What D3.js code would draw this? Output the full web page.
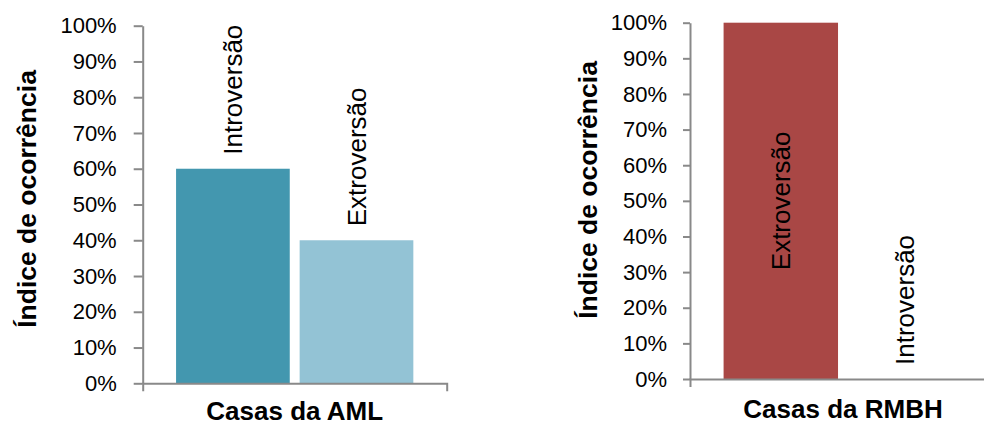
<!DOCTYPE html>
<html>
<head>
<meta charset="utf-8">
<script src="https://cdn.jsdelivr.net/npm/d3@7"></script>
<style>
  html, body { margin: 0; padding: 0; background: #ffffff; }
  svg { display: block; }
  text { font-family: "Liberation Sans", Arial, sans-serif; fill: #000; }
</style>
</head>
<body>
<svg id="chart" width="984" height="425"></svg>
<script>
// ---- Data ----
const categories = ["Casas da AML", "Casas da RMBH"];
const amlSeries = ["Introversão", "Extroversão"];
const amlValues = [0.60, 0.40];
const amlColors = ["#4397AF", "#93C3D5"];
const amlLabelPos = ["out", "out"];
const rmbhSeries = ["Extroversão", "Introversão"];
const rmbhValues = [1.00, 0.00];
const rmbhColors = ["#A94745", "#A94745"];
const rmbhLabelPos = ["center", "out"];
const yTicks = [0, 0.1, 0.2, 0.3, 0.4, 0.5, 0.6, 0.7, 0.8, 0.9, 1.0];
const yTitle = "Índice de ocorrência";

// ---- Layout (positions only) ----
const panels = [
  { cat: categories[0], series: amlSeries, values: amlValues, colors: amlColors, labelPos: amlLabelPos,
    x0: 142.7, x1: 446.7, yBottom: 383.3, yTop: 25.7, tickSize: 9, tickPad: 17,
    titleX: 36, titleY: 199, catY: 420 },
  { cat: categories[1], series: rmbhSeries, values: rmbhValues, colors: rmbhColors, labelPos: rmbhLabelPos,
    x0: 690, x1: 996, yBottom: 379, yTop: 22.7, tickSize: 7, tickPad: 16,
    titleX: 597, titleY: 190, catY: 418 }
];

const svg = d3.select("#chart");
const axisColor = "#898989";

panels.forEach(p => {
  const g = svg.append("g");
  const y = d3.scaleLinear().domain([0, 1]).range([p.yBottom, p.yTop]);
  const xCat = d3.scaleBand().domain([p.cat]).range([p.x0, p.x1]);
  const x = d3.scaleBand().domain(p.series).range([p.x0, p.x1])
    .paddingInner(0.08).paddingOuter(0.27);

  // bars
  g.selectAll("rect.bar").data(p.series).enter().append("rect")
    .attr("class", "bar")
    .attr("x", d => x(d))
    .attr("width", x.bandwidth())
    .attr("y", (d, i) => y(p.values[i]))
    .attr("height", (d, i) => y(0) - y(p.values[i]))
    .attr("fill", (d, i) => p.colors[i]);

  // y axis
  const yAxis = d3.axisLeft(y).tickValues(yTicks).tickFormat(d3.format(".0%"))
    .tickSize(p.tickSize).tickSizeOuter(0).tickPadding(p.tickPad);
  const ya = g.append("g").attr("transform", `translate(${p.x0},0)`).call(yAxis);
  ya.select(".domain").attr("stroke", axisColor).attr("stroke-width", 2);
  ya.selectAll(".tick line").attr("stroke", axisColor).attr("stroke-width", 2);
  ya.selectAll(".tick text").attr("font-size", 22).attr("font-family", "'Liberation Sans', Arial, sans-serif").attr("fill", "#000");

  // x axis
  const xAxis = d3.axisBottom(xCat).tickValues([]).tickSizeOuter(8);
  const xa = g.append("g").attr("transform", `translate(0,${p.yBottom})`).call(xAxis);
  xa.select(".domain").attr("stroke", axisColor).attr("stroke-width", 2);

  // category label
  g.append("text")
    .attr("x", xCat(p.cat) + xCat.bandwidth() / 2)
    .attr("y", p.catY)
    .attr("text-anchor", "middle")
    .attr("font-size", 26).attr("font-weight", "bold")
    .text(p.cat);

  // y title
  g.append("text")
    .attr("transform", `translate(${p.titleX},${p.titleY}) rotate(-90)`)
    .attr("text-anchor", "middle")
    .attr("font-size", 26.5).attr("font-weight", "bold")
    .text(yTitle);

  // data labels
  g.selectAll("text.lbl").data(p.series).enter().append("text")
    .attr("class", "lbl")
    .attr("font-size", 26)
    .attr("dy", "0.35em")
    .attr("text-anchor", (d, i) => p.labelPos[i] === "center" ? "middle" : "start")
    .attr("transform", (d, i) => {
      const cx = x(d) + x.bandwidth() / 2;
      const cy = p.labelPos[i] === "center"
        ? (y(p.values[i]) + y(0)) / 2
        : y(p.values[i]) - 14;
      return `translate(${cx},${cy}) rotate(-90)`;
    })
    .text(d => d);
});
</script>
</body>
</html>
